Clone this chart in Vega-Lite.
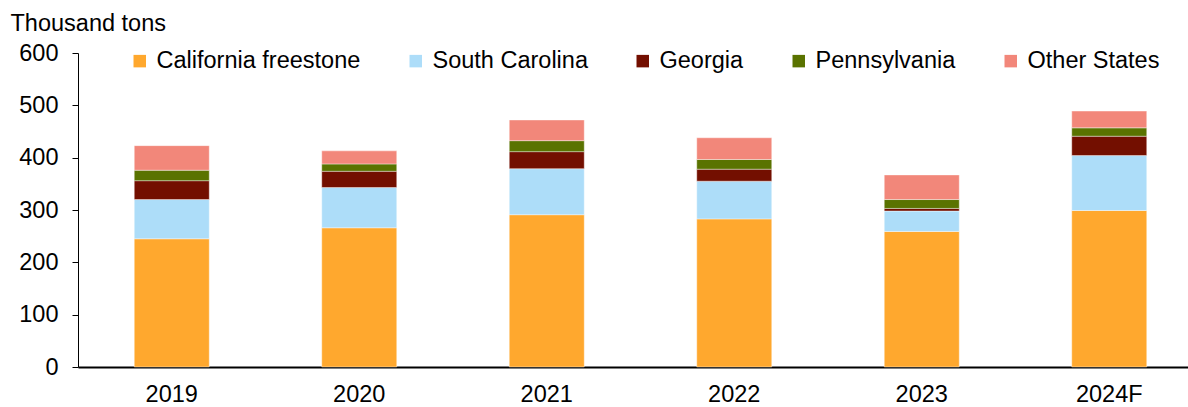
{
  "$schema": "https://vega.github.io/schema/vega-lite/v6.json",
  "width": 1125,
  "height": 314,
  "autosize": "none",
  "padding": {"left": 78, "top": 53, "right": 0, "bottom": 40},
  "background": "white",
  "config": {
    "font": "Liberation Sans",
    "view": {"stroke": null},
    "axis": {"labelColor": "#000", "titleColor": "#000", "labelFont": "Liberation Sans", "titleFont": "Liberation Sans"},
    "legend": {"labelFont": "Liberation Sans"}
  },
  "title": {
    "text": "F = Forecast",
    "orient": "bottom",
    "anchor": "start",
    "frame": "group",
    "dx": -71,
    "offset": 3,
    "fontSize": 23.5,
    "fontWeight": "normal",
    "color": "#000",
    "font": "Liberation Sans"
  },
  "data": {
    "values": [
      {"year": "2019", "state": "California freestone", "o": 1, "v": 245},
      {"year": "2019", "state": "South Carolina", "o": 2, "v": 75},
      {"year": "2019", "state": "Georgia", "o": 3, "v": 36},
      {"year": "2019", "state": "Pennsylvania", "o": 4, "v": 20},
      {"year": "2019", "state": "Other States", "o": 5, "v": 47},
      {"year": "2020", "state": "California freestone", "o": 1, "v": 266},
      {"year": "2020", "state": "South Carolina", "o": 2, "v": 77},
      {"year": "2020", "state": "Georgia", "o": 3, "v": 31},
      {"year": "2020", "state": "Pennsylvania", "o": 4, "v": 14},
      {"year": "2020", "state": "Other States", "o": 5, "v": 25},
      {"year": "2021", "state": "California freestone", "o": 1, "v": 291},
      {"year": "2021", "state": "South Carolina", "o": 2, "v": 88},
      {"year": "2021", "state": "Georgia", "o": 3, "v": 32.5},
      {"year": "2021", "state": "Pennsylvania", "o": 4, "v": 21},
      {"year": "2021", "state": "Other States", "o": 5, "v": 39.5},
      {"year": "2022", "state": "California freestone", "o": 1, "v": 283},
      {"year": "2022", "state": "South Carolina", "o": 2, "v": 72},
      {"year": "2022", "state": "Georgia", "o": 3, "v": 23},
      {"year": "2022", "state": "Pennsylvania", "o": 4, "v": 18.5},
      {"year": "2022", "state": "Other States", "o": 5, "v": 41.5},
      {"year": "2023", "state": "California freestone", "o": 1, "v": 259},
      {"year": "2023", "state": "South Carolina", "o": 2, "v": 39},
      {"year": "2023", "state": "Georgia", "o": 3, "v": 5},
      {"year": "2023", "state": "Pennsylvania", "o": 4, "v": 17},
      {"year": "2023", "state": "Other States", "o": 5, "v": 47},
      {"year": "2024F", "state": "California freestone", "o": 1, "v": 299},
      {"year": "2024F", "state": "South Carolina", "o": 2, "v": 105},
      {"year": "2024F", "state": "Georgia", "o": 3, "v": 37},
      {"year": "2024F", "state": "Pennsylvania", "o": 4, "v": 16},
      {"year": "2024F", "state": "Other States", "o": 5, "v": 32}
    ]
  },
  "mark": {"type": "bar", "stroke": "white", "strokeWidth": 0.8, "strokeOpacity": 0.5},
  "encoding": {
    "x": {
      "field": "year",
      "type": "nominal",
      "sort": null,
      "scale": {"paddingInner": 0.6, "paddingOuter": 0.3},
      "axis": {
        "title": null,
        "labelAngle": 0,
        "labelFontSize": 23.5,
        "labelPadding": 15,
        "ticks": false,
        "domainColor": "#000",
        "domainWidth": 2
      }
    },
    "y": {
      "field": "v",
      "type": "quantitative",
      "stack": "zero",
      "scale": {"domain": [0, 600], "nice": false},
      "axis": {
        "title": "Thousand tons",
        "titleAngle": 0,
        "titleAlign": "left",
        "titleBaseline": "alphabetic",
        "titleX": -68,
        "titleY": -23,
        "titleFontSize": 23.5,
        "titleFontWeight": "normal",
        "values": [0, 100, 200, 300, 400, 500, 600],
        "labelFontSize": 23.5,
        "labelPadding": 14,
        "tickSize": 6,
        "tickColor": "#000",
        "domainColor": "#000",
        "grid": false
      }
    },
    "color": {
      "field": "state",
      "type": "nominal",
      "sort": ["California freestone", "South Carolina", "Georgia", "Pennsylvania", "Other States"],
      "scale": {
        "domain": ["California freestone", "South Carolina", "Georgia", "Pennsylvania", "Other States"],
        "range": ["#FFA82E", "#ADDDF9", "#730F00", "#5A7300", "#F2877A"]
      },
      "legend": {
        "title": null,
        "orient": "none",
        "direction": "horizontal",
        "legendX": 50,
        "legendY": -4,
        "symbolType": "square",
        "symbolSize": 156,
        "symbolStrokeWidth": 0,
        "labelFontSize": 23.5,
        "labelColor": "#000",
        "labelOffset": 5,
        "columnPadding": 43,
        "labelLimit": 400
      }
    },
    "order": {"field": "o", "type": "quantitative"}
  }
}
